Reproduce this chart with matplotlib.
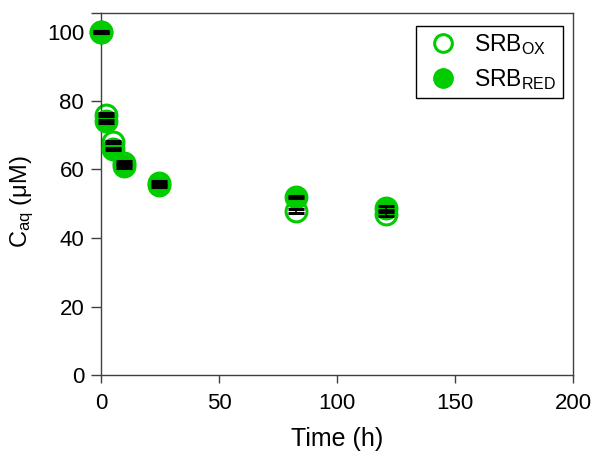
import matplotlib
matplotlib.use("Agg")
import matplotlib.pyplot as plt

plt.rcParams['font.family'] = ['Liberation Sans', 'DejaVu Sans']
plt.rcParams['mathtext.fontset'] = 'custom'
plt.rcParams['mathtext.rm'] = 'Liberation Sans'
plt.rcParams['mathtext.it'] = 'Liberation Sans:italic'

time_h = [0, 2, 5, 9.5, 24.5, 82.5, 120.5]
ox_vals = [100, 76, 68, 62, 56, 47.8, 47.0]
ox_err = [0.3, 0.4, 0.4, 0.6, 0.5, 0.6, 0.5]
red_vals = [100, 74, 66, 61, 55.5, 52.0, 48.7]
red_err = [0.3, 0.4, 0.3, 0.5, 0.7, 0.3, 0.6]

x_ticks = [0, 50, 100, 150, 200]
y_ticks = [0, 20, 40, 60, 80, 100]

green = '#00cc00'
spine_col = '#404040'

fig = plt.figure(figsize=(5.97, 4.53), dpi=100)
ax = fig.add_axes([0.170, 0.1715, 0.790, 0.8005])

ox_line, = ax.plot(time_h, ox_vals, 'o', ms=15, mfc='white', mec=green, mew=2.2,
                   linestyle='none', zorder=2, clip_on=False,
                   label='SRB$_{\\mathrm{OX}}$')
red_line, = ax.plot(time_h, red_vals, 'o', ms=15, mfc=green, mec=green, mew=2.2,
                    linestyle='none', zorder=3, clip_on=False,
                    label='SRB$_{\\mathrm{RED}}$')
for vals, errs, z in ((ox_vals, ox_err, 4), (red_vals, red_err, 5)):
    eb = ax.errorbar(time_h, vals, yerr=errs, fmt='none', ecolor='black',
                     elinewidth=1.2, capsize=5.5, capthick=2.2, zorder=z)
    for art in eb.lines[1] + eb.lines[2]:
        art.set_clip_on(False)

ax.set_xlim(0, 200)
ax.set_ylim(0, 105.7)
ax.set_xticks(x_ticks)
ax.set_yticks(y_ticks)
ax.set_yticks([105.7], minor=True)
ax.tick_params(axis='x', direction='out', length=6, width=1, color=spine_col,
               labelsize=16, pad=7)
ax.tick_params(axis='y', which='both', direction='out', length=7.5, width=1,
               color=spine_col, labelsize=16, pad=5)
for s in ax.spines.values():
    s.set_color(spine_col)
    s.set_linewidth(1)

ax.set_xlabel('Time (h)', fontsize=18, labelpad=9)
ax.set_ylabel('C$_{\\mathrm{aq}}$ (μM)', fontsize=17)
ax.yaxis.set_label_coords(-0.139, 0.478)

leg = ax.legend(handles=[ox_line, red_line], loc='upper right', fontsize=16.5,
                frameon=True, fancybox=False, edgecolor='black', framealpha=1,
                handlelength=1.83, handletextpad=0.45, borderpad=0.28,
                labelspacing=0.42, markerscale=0.85, borderaxespad=0,
                bbox_to_anchor=(0.9788, 0.9633))
leg.get_frame().set_linewidth(1)

fig.savefig('out.png', dpi=100)
